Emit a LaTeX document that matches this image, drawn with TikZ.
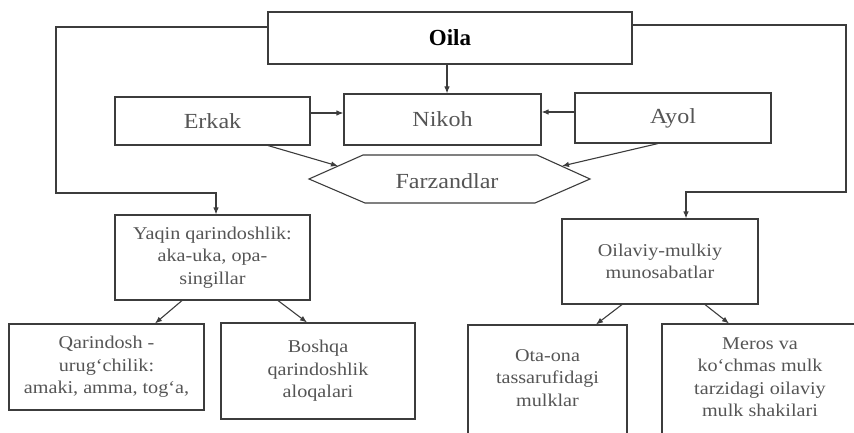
\documentclass[tikz,border=0pt]{standalone}
\usepackage{fontspec}
\setmainfont{Liberation Serif}
\newfontfamily\widefont[FakeStretch=1.12]{Liberation Serif}
\usetikzlibrary{arrows.meta}
\definecolor{linec}{HTML}{3C3C3C}
\definecolor{textc}{HTML}{555555}
\tikzset{
  box/.style={draw=linec, line width=1.1pt, fill=white, inner sep=0pt, align=center, text=textc},
  toptext/.style={font=\widefont\fontsize{21.5}{24}\selectfont},
  lowtext/.style={font=\widefont\fontsize{18}{22.5}\selectfont},
  conn/.style={draw=linec, line width=1.1pt},
  arr/.style={conn, -{Latex[length=7pt,width=5.5pt]}},
}
\begin{document}
\begin{tikzpicture}[x=1pt,y=-1pt]
\useasboundingbox (0,0) rectangle (854,433);
\clip (0,0) rectangle (854,433);
% top level
\node[box, minimum width=364, minimum height=52, text=black,
      font=\fontsize{23}{26}\selectfont\bfseries] (oila) at (450,38) {Oila};
\node[box, toptext, minimum width=195, minimum height=48] (erkak) at (212.5,121) {Erkak};
\node[box, toptext, minimum width=197, minimum height=51] (nikoh) at (442.5,119.5) {Nikoh};
\node[box, toptext, minimum width=196, minimum height=50] (ayol) at (673,118) {Ayol};
% hexagon
\draw[conn, fill=white] (309,179) -- (363,155) -- (537,155) -- (590,179) -- (535,203) -- (365,203) -- cycle;
\node[toptext, text=textc, inner sep=0pt] (farz) at (447,181) {Farzandlar};
\coordinate (hexL) at (338,166);
\coordinate (hexR) at (562,166);
% second level
\node[box, lowtext, minimum width=195, minimum height=85] (yaqin) at (212.5,257.5)
  {Yaqin qarindoshlik:\\aka-uka, opa-\\singillar};
\node[box, lowtext, minimum width=196, minimum height=85] (oilaviy) at (660,261.5)
  {Oilaviy-mulkiy\\munosabatlar};
% third level
\node[box, lowtext, minimum width=195, minimum height=86] (qarin) at (106.5,367)
  {Qarindosh -\\urug‘chilik:\\amaki, amma, tog‘a,};
\node[box, lowtext, minimum width=194, minimum height=96] (boshqa) at (318,371)
  {Boshqa\\qarindoshlik\\aloqalari};
\node[box, minimum width=159, minimum height=130] (otaona) at (547.5,390) {};
\node[lowtext, text=textc, align=center, inner sep=0pt] (otaonat) at (547.5,378)
  {Ota-ona\\tassarufidagi\\mulklar};
\node[box, minimum width=196, minimum height=130] (meros) at (760,389) {};
\node[lowtext, text=textc, align=center, inner sep=0pt] (merost) at (760,377)
  {Meros va\\ko‘chmas mulk\\tarzidagi oilaviy\\mulk shakilari};
% connectors
\draw[arr] (oila.south -| 447,0) -- (nikoh.north -| 447,0);
\draw[arr] (erkak.east |- 0,113) -- (nikoh.west |- 0,113);
\draw[arr] (ayol.west |- 0,112) -- (nikoh.east |- 0,112);
\draw[arr] (erkak.south -| 268,0) -- (hexL);
\draw[arr] (ayol.south -| 658,0) -- (hexR);
\draw[arr] (oila.west |- 0,27) -| (56,193) -| (yaqin.north -| 216,0);
\draw[arr] (oila.east |- 0,25) -| (846,192) -| (oilaviy.north -| 686,0);
\draw[arr] (yaqin.south -| 182,0) -- (qarin.north -| 155,0);
\draw[arr] (yaqin.south -| 278,0) -- (boshqa.north -| 307,0);
\draw[arr] (oilaviy.south -| 622,0) -- (otaona.north -| 596,0);
\draw[arr] (oilaviy.south -| 705,0) -- (meros.north -| 729,0);
\end{tikzpicture}
\end{document}
